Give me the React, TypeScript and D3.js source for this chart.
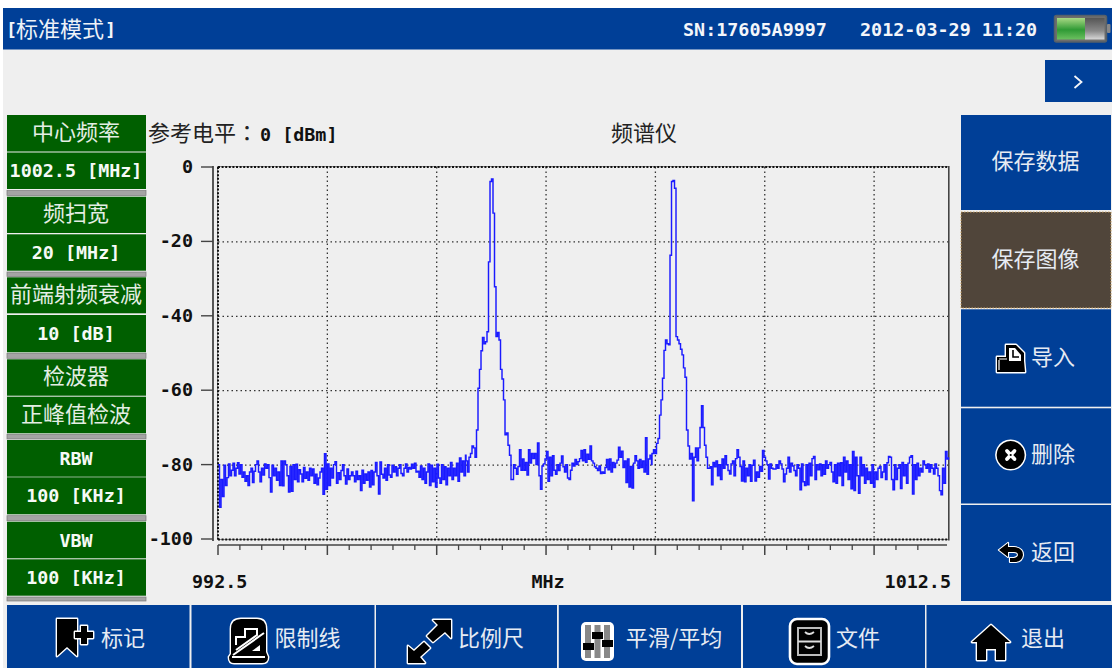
import React from "react";
import * as d3 from "d3";

// ---------- chart data ----------
const freqMin = 992.5;
const freqMax = 1012.5;
const levelMin = -100;
const levelMax = 0;
const sweepStep = 0.04115; // MHz between sweep points

const yTicks = [0, -20, -40, -60, -80, -100];
const xMajorTicks = [992.5, 995.5, 998.5, 1001.5, 1004.5, 1007.5, 1010.5];
const xMinorStep = 0.6;
const xLabels = ["992.5", "MHz", "1012.5"];

const noiseLeft = [
  -80, -91.5, -84, -88.6, -80.2, -85.6, -83.5, -79.8, -83, -81.5,
  -79.6, -83, -81, -79.5, -82.5, -80, -83.4, -82, -84.5, -83,
  -85.6, -82, -81, -84.8, -81.8, -80, -79, -82, -84.6, -81,
  -82.8, -79.8, -81, -80, -83.5, -87.4, -80.2, -83, -81, -84.2,
  -82, -85.6, -79, -85.7, -79, -80, -83, -87.4, -80.5, -87.2,
  -80, -84, -79.9, -84.6, -81.4, -82.5, -84.6, -80.8, -83.7, -82,
  -84.2, -81, -83, -81.2, -85, -82.6, -85.4, -83.6, -82, -81,
  -88, -77.1, -86.6, -79.8, -85.6, -81, -83.6, -80, -79.2, -85,
  -82.2, -84, -81.6, -80, -83, -85.2, -81.2, -84, -83, -82,
  -83, -84.6, -81.8, -84, -83, -87, -81.5, -85, -82.5, -84.2,
  -82, -86, -81.6, -85.4, -82, -79.4, -83, -87.9, -79.3, -82.6,
  -83.6, -81, -84.2, -80, -82.8, -83.4, -80.2, -82, -80.6, -83,
  -81, -80, -82.4, -83, -81, -79.8, -82, -80.8, -81.2, -79.9,
  -81, -79.6, -82, -81.8, -83.4, -80.4, -84, -81, -85, -82,
  -79.8, -85.6, -80.2, -84.6, -81, -86, -79.9, -83.6, -85, -80,
  -84, -80.6, -85.4, -81, -83, -79.4, -84, -81, -83, -79.6,
  -84.5, -78.2, -82, -79, -83, -77.5,
];
const peakOne = [
  -79, -82, -78, -77, -75, -75.5, -78, -70.7, -59.5, -54.4,
  -49.4, -45.8, -47.5, -47, -44.3, -25.5, -3.9, -3.2, -12.4, -32.2,
  -45.6, -44.5, -46.5, -54.4, -57, -62.6, -72, -71.5, -74.8, -77.5,
  -84,
];
const valley = [
  -80, -81, -82.6, -80.5, -76, -81.5, -78.5, -81.5, -79.4, -82.8,
  -76, -79.6, -77, -78.4, -77, -80, -74.2, -83, -86.6, -80.4,
  -79.8, -78.5, -76.5, -84.5, -78, -83, -77.6, -81.5, -82.6, -80,
  -81.6, -79.6, -77.7, -80.6, -82, -80, -83.6, -84, -81.5, -79.6,
  -80.4, -78.6, -80, -79.2, -78.4, -76.2, -79, -76, -79.4, -77.2,
  -78.6, -75, -79, -79.6, -80.6, -81, -81.6, -80.4, -82.4, -82,
  -82.3, -80.8, -78.6, -81.4, -78.5, -82, -79.4, -80.8, -79.6, -78.8,
  -75.3, -78, -76.4, -80.8, -79, -84.8, -78.5, -86, -80.5, -86.3,
  -79.6, -77.6, -79, -81, -78.6, -80.8, -79, -82, -72.8, -82.6,
  -78.5, -77.5, -80,
];
const peakTwo = [
  -77, -76, -77, -74.3, -73, -66.7, -62.6, -56.8, -49.3, -46.5,
  -47.5, -47.8, -23.7, -3.9, -3.6, -5.7, -45.6, -46.5, -47.5, -49,
  -50.5, -54, -56.5, -70.7, -75, -78.5, -77, -89.7, -78, -75.5,
  -79, -75.5, -70, -64.2, -70, -74.8, -78, -81,
];
const noiseRight = [
  -80.6, -85.4, -79.4, -80.6, -79, -83, -80, -84, -78.5, -81,
  -77.6, -80, -81.6, -82.5, -79.8, -79, -83, -78.4, -76, -78,
  -80.5, -84.4, -79, -84.6, -81, -83, -80, -84.5, -80.2, -78.8,
  -84.4, -82, -83.4, -80.5, -81.8, -76.2, -78, -79, -80, -83.9,
  -79.8, -81, -81.2, -81.2, -80, -81, -79, -79.8, -81.2, -84.6,
  -82.5, -81, -78, -82, -79.6, -80.4, -81.6, -83, -80, -81,
  -86.8, -79.8, -84.6, -85.6, -80, -85.4, -79.6, -83, -78.4, -77.8,
  -84, -80, -81.4, -79.8, -83, -80, -82.6, -79, -81, -80,
  -79.4, -82, -84.6, -80, -85, -79.6, -83, -79.5, -85.6, -78,
  -82, -79, -84, -80, -86.5, -76.5, -87, -78, -83, -87.7,
  -78, -83, -80, -85, -81, -84, -82, -85, -80, -86,
  -82, -84, -81, -80.5, -83.5, -82, -80, -84, -79.5, -77.8,
  -78, -84, -86.8, -80, -84, -81, -80, -86.4, -79.4, -83,
  -80, -85, -79.6, -78, -77.6, -87.9, -80, -84, -79.6, -83,
  -81, -82, -79, -80, -81, -79.8, -82, -80, -81, -82.5,
  -79.8, -81, -83, -87, -88.1, -81, -85, -76.5, -78.5, -78,
];
const segmentStarts = [992.5, 999.304, 1000.607, 1004.407, 1005.998];
const segments = [noiseLeft, peakOne, valley, peakTwo, noiseRight];

// ---------- screen text ----------
const titleText = "标准模式";
const serialText = "SN:17605A9997";
const clockText = "2012-03-29 11:20";
const refLabel = "参考电平";
const refColon = "：";
const refValue = "0 [dBm]";
const chartTitle = "频谱仪";
const leftLabels = ["中心频率", "1002.5 [MHz]", "频扫宽", "20 [MHz]", "前端射频衰减", "10 [dB]", "检波器", "正峰值检波", "RBW", "100 [KHz]", "VBW", "100 [KHz]"];
const rightLabels = ["保存数据", "保存图像", "导入", "删除", "返回"];
const bottomLabels = ["标记", "限制线", "比例尺", "平滑/平均", "文件", "退出"];

// ---------- layout ----------
const W = 1112, H = 668;
const BLUE = "#003f97";
const GREEN = "#005f00";
const MONO = "'DejaVu Sans Mono', monospace";
const CJK = "'Noto Sans CJK SC', sans-serif";
const leftRows = [[115, 151.5], [152.5, 189], [196.7, 233], [234.3, 270.7], [277.3, 313.3], [315, 352.3], [359.3, 395.7], [396.7, 433.3], [440, 476.7], [477.3, 514.3], [521.7, 558.3], [559.3, 595.7]];
const leftSeps = [[190.5, 195.5], [272, 276.5], [353.5, 358.3], [434.5, 439], [515.7, 520.7], [597, 601]];
const rightRows = [[115, 210], [212, 308], [309.3, 406.7], [408.3, 503.5], [505, 601]];
const rightTextX = [1035.5, 1035.5, 1053, 1053, 1053];
const bottomCells = [[7, 189.5], [191.5, 374.5], [376, 557], [558.8, 741], [743, 925], [926.5, 1112]];
const bottomTextX = [123, 307.5, 491, 674, 858, 1043];

const x = d3.scaleLinear().domain([freqMin, freqMax]).range([218, 947]);
const y = d3.scaleLinear().domain([levelMin, levelMax]).range([539, 167]);

const trace: [number, number][] = segments.flatMap((seg, s) =>
  seg.map((v, i) => [segmentStarts[s] + i * sweepStep, v] as [number, number])
);
const linePath = d3.line<[number, number]>().x(d => x(d[0])).y(d => y(d[1])).curve(d3.curveStepAfter)(trace) as string;
const minorTicks = d3.range(freqMin, freqMax - 0.2, xMinorStep).filter(f => !xMajorTicks.some(m => Math.abs(m - f) < 0.01));

const Ic = (p: any) => <path fill="#000" stroke="#fff" strokeWidth={2.8} strokeLinejoin="round" strokeLinecap="round" paintOrder="stroke" {...p} />;

export default function App() {
  return (
    <svg width={W} height={H} viewBox={`0 0 ${W} ${H}`} style={{ position: "absolute", left: 0, top: 0, display: "block" }}>
      <defs>
        <linearGradient id="batG" x1="0" y1="0" x2="0" y2="1">
          <stop offset="0" stopColor="#a8d884" /><stop offset="0.55" stopColor="#2f9a35" /><stop offset="1" stopColor="#6cc060" />
        </linearGradient>
        <linearGradient id="batN" x1="0" y1="0" x2="0" y2="1">
          <stop offset="0" stopColor="#555" /><stop offset="0.6" stopColor="#8a8a8a" /><stop offset="1" stopColor="#d8d8d8" />
        </linearGradient>
      </defs>
      <rect width={W} height={H} fill="#fff" />
      <rect x={3} y={8} width={W - 3} height={H - 8} fill="#efefef" />

      {/* top bar */}
      <rect x={3} y={8} width={W - 3} height={41.5} fill={BLUE} />
      <text x={6} y={36} fill="#f4f6fa" fontSize={18.4} fontFamily={MONO} fontWeight={700}>[</text>
      <text x={16} y={37} fill="#eef2f8" fontSize={22} fontFamily={CJK}>{titleText}</text>
      <text x={105} y={36} fill="#f4f6fa" fontSize={18.4} fontFamily={MONO} fontWeight={700}>]</text>
      <text x={683} y={36} fill="#f4f6fa" fontSize={18.4} fontFamily={MONO} fontWeight={700}>{serialText}</text>
      <text x={860} y={36} fill="#f4f6fa" fontSize={18.4} fontFamily={MONO} fontWeight={700}>{clockText}</text>
      <rect x={1054.5} y={15.5} width={52} height={26.5} rx={2} fill="#6d6d6d" stroke="#55606a" strokeWidth={1.5} />
      <rect x={1057} y={18} width={28} height={21.5} fill="url(#batG)" />
      <rect x={1085} y={18} width={19.5} height={21.5} fill="url(#batN)" />
      <rect x={1107} y={24} width={3.5} height={9} rx={1} fill="#888" />

      {/* arrow button */}
      <rect x={1045} y={60} width={67} height={42} fill={BLUE} />
      <path d="M1074.5 76 L1081.5 82 L1074.5 88" fill="none" stroke="#f4f6fa" strokeWidth={1.8} />

      {/* left panel */}
      {leftSeps.map(([a, b], i) => (
        <rect key={i} x={7} y={a} width={139} height={b - a} fill="#a4a4a4" stroke="#7a7a7a" strokeWidth={0.7} />
      ))}
      {leftRows.map(([a, b], i) => {
        const label = leftLabels[i];
        const isCjk = /[\u4e00-\u9fff]/.test(label);
        const mid = (a + b) / 2;
        return (
          <g key={i}>
            <rect x={7} y={a} width={139} height={b - a} fill={GREEN} />
            <text x={76} y={mid + (isCjk ? 6.5 : 6.5)} textAnchor="middle" fill={isCjk ? "#e4eee4" : "#f6faf6"}
              fontSize={isCjk ? 22 : 18.4} fontFamily={isCjk ? CJK : MONO} fontWeight={isCjk ? 400 : 700}>{label}</text>
          </g>
        );
      })}

      {/* header of chart */}
      <text x={148} y={141} fill="#222" fontSize={22} fontFamily={CJK}>{refLabel}<tspan fontFamily="'Noto Sans CJK TC', sans-serif">{refColon}</tspan></text>
      <text x={260} y={141} fill="#111" fontSize={18.4} fontFamily={MONO} fontWeight={700}>{refValue}</text>
      <text x={644} y={141} textAnchor="middle" fill="#222" fontSize={22} fontFamily={CJK}>{chartTitle}</text>

      {/* grid */}
      <g stroke="#333" strokeWidth={1.3} strokeDasharray="1.5 3" fill="none">
        {yTicks.slice(1, -1).map(t => <line key={t} x1={218} x2={949} y1={y(t) + 0.5} y2={y(t) + 0.5} />)}
        {xMajorTicks.slice(1).map(t => <line key={t} x1={x(t)} x2={x(t)} y1={167} y2={539} />)}
      </g>

      {/* plot frame */}
      <rect x={217.5} y={166.5} width={731} height={373} fill="none" stroke="#8a8a8a" strokeWidth={1} />
      <line x1={948.8} x2={948.8} y1={166} y2={540.5} stroke="#444" strokeWidth={1.6} />
      <g stroke="#111" strokeWidth={2} strokeDasharray="2 1.6" fill="none">
        <line x1={218} x2={948} y1={167} y2={167} />
        <line x1={218} x2={948} y1={539.5} y2={539.5} />
        <line x1={218} x2={218} y1={167} y2={539.5} />
      </g>

      {/* trace */}
      <path d={linePath} fill="none" stroke="#1a1aff" strokeWidth={1.45} strokeLinejoin="miter" />

      {/* y axis */}
      <line x1={213} x2={213} y1={166} y2={541} stroke="#444" strokeWidth={1.8} />
      {yTicks.map(t => (
        <g key={t}>
          <line x1={201} x2={213} y1={y(t)} y2={y(t)} stroke="#444" strokeWidth={1.4} />
          <text x={193} y={y(t) + 6} textAnchor="end" fill="#111" fontSize={18.4} fontFamily={MONO} fontWeight={700}>{String(t)}</text>
        </g>
      ))}

      {/* x axis */}
      <line x1={218} x2={947} y1={545} y2={545} stroke="#444" strokeWidth={1.5} />
      {xMajorTicks.map(t => <line key={t} x1={x(t)} x2={x(t)} y1={545} y2={555} stroke="#444" strokeWidth={1.5} />)}
      {minorTicks.map(t => <line key={t} x1={x(t)} x2={x(t)} y1={545} y2={550} stroke="#444" strokeWidth={1.3} />)}
      <text x={192} y={588} fill="#111" fontSize={18.4} fontFamily={MONO} fontWeight={700}>{xLabels[0]}</text>
      <text x={548} y={588} textAnchor="middle" fill="#111" fontSize={18.4} fontFamily={MONO} fontWeight={700}>{xLabels[1]}</text>
      <text x={951} y={588} textAnchor="end" fill="#111" fontSize={18.4} fontFamily={MONO} fontWeight={700}>{xLabels[2]}</text>

      {/* right panel */}
      {rightRows.map(([a, b], i) => (
        <g key={i}>
          <rect x={961} y={a} width={150} height={b - a} fill={i === 1 ? "#50453a" : BLUE}
            stroke={i === 1 ? "#c9a468" : "none"} strokeWidth={i === 1 ? 1 : 0} strokeDasharray="1.5 1.5" />
          <text x={rightTextX[i]} y={(a + b) / 2 + 6.5} textAnchor="middle" fill="#e6ebf3" fontSize={22} fontFamily={CJK}>{rightLabels[i]}</text>
        </g>
      ))}
      <Ic d="M1006 345 H1016 L1024 353 V361 L1025 372 H997 V357 H1006 Z" />
      <path d="M1009 348 H1015 L1021 355 V361 H1009 Z" fill="#fff" />
      <path d="M1013 350 V357 H1019" fill="none" stroke="#000" strokeWidth={1.6} />
      <path d="M999 359 H1007 M999 360 V370" stroke="#fff" strokeWidth={1.2} />
      <Ic d="M1010.7 441 A14 14 0 1 1 1010.6 441 Z" />
      <path d="M1007 451 L1014.5 459 M1014.5 451 L1007 459" stroke="#fff" strokeWidth={3.8} strokeLinecap="round" />
      <circle cx={1010.7} cy={455} r={1.1} fill="#000" />
      <path d="M999 550 L1008 543 V547 H1014 Q1023 548 1023 555 Q1022 562 1014 562 H1010 V558 H1014 Q1018 557 1018 555 Q1018 552 1014 552 H1008 V557 Z" fill="#000" stroke="#fff" strokeWidth={2.2} paintOrder="stroke" strokeLinejoin="round" />

      {/* bottom bar */}
      {bottomCells.map(([a, b], i) => (
        <g key={i}>
          <rect x={a} y={605} width={b - a} height={63} fill={BLUE} />
          <text x={bottomTextX[i]} y={645.5} textAnchor="middle" fill="#e6ebf3" fontSize={22} fontFamily={CJK}>{bottomLabels[i]}</text>
        </g>
      ))}
      {/* bookmark */}
      <Ic d="M57 619 H77 V656 L67 647 L57 656 Z" />
      <Ic d="M81 626 H87 V632 H93 V638 H87 V644 H81 V638 H75 V632 H81 Z" />
      {/* limit line */}
      <Ic d="M231 654 V629 Q231 619 241 619 H257 Q266 619 266 629 V652 L268 657 Q268 663 262 663 H234 Q229 663 229 657 Z" />
      <path d="M236 645 V637 H245 V629 H257 V635 L236 650" fill="none" stroke="#fff" strokeWidth={2} />
      <path d="M233 655 L264 633 M232 657 H265" stroke="#fff" strokeWidth={2} />
      <path d="M252 651 L260 645 V651 Z" fill="#fff" />
      {/* ratio arrows */}
      <Ic d="M433 620 H451 V638 L445 632 L433 642 L427 636 L438 625 Z" />
      <Ic d="M408 646 L414 651 L424 642 L430 648 L420 657 L425 663 H408 Z" />
      {/* sliders */}
      <rect x={581} y={622} width={33} height={39} rx={5} fill="#fff" />
      <g fill="#888">
        <rect x={585} y={625} width={6} height={33} />
        <rect x={594.5} y={625} width={6} height={33} />
        <rect x={604} y={625} width={6} height={33} />
      </g>
      <g fill="#000">
        <rect x={583} y={643} width={11} height={7} />
        <rect x={592} y={632} width={11} height={7} />
        <rect x={602} y={640} width={11} height={7} />
      </g>
      {/* drawers */}
      <rect x={790} y={619} width={39} height={45} rx={7} fill="#000" stroke="#fff" strokeWidth={2.6} />
      <rect x={798} y={628} width={23} height={27} fill="none" stroke="#bbb" strokeWidth={2} />
      <path d="M798 641.5 H821" stroke="#ddd" strokeWidth={2} />
      <path d="M805 632 Q809 636 814 632 M805 646 Q809 650 814 646" stroke="#ddd" strokeWidth={1.8} fill="none" />
      {/* home */}
      <Ic d="M991 625 L1010 642 H1005 V660 H996 V649 H986 V660 H977 V642 H972 Z" />
    </svg>
  );
}
